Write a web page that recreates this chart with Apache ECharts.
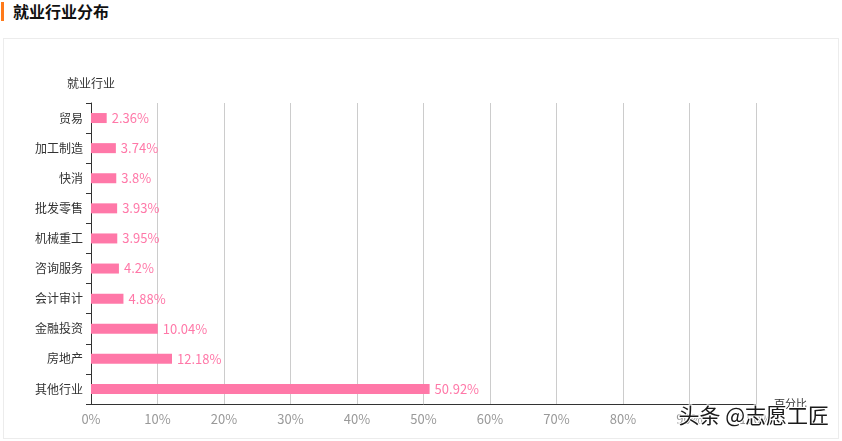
<!DOCTYPE html>
<html>
<head>
<meta charset="utf-8">
<script src="https://cdn.jsdelivr.net/npm/echarts@6/dist/echarts.min.js"></script>
<style>
    body {
        margin: 0;
        width: 842px;
        height: 441px;
        background: #fff;
        font-family: 'Noto Sans CJK SC', sans-serif;
        position: relative;
        overflow: hidden;
    }
    .title {
        position: absolute;
        left: 1px;
        top: 2px;
        height: 19px;
        border-left: 3px solid #ff7a1a;
        padding-left: 9px;
        font-size: 16px;
        font-weight: bold;
        color: #111;
        line-height: 19px;
    }
    .panel {
        position: absolute;
        left: 3px;
        top: 38px;
        width: 834px;
        height: 399px;
        border: 1px solid #ececec;
    }
    #chart {
        position: absolute;
        left: 0;
        top: 0;
        width: 842px;
        height: 441px;
    }
</style>
</head>
<body>
<div class="title">就业行业分布</div>
<div class="panel"></div>
<div id="chart"></div>
<script>
// 行业（自下而上）
const industries = ['其他行业', '房地产', '金融投资', '会计审计', '咨询服务', '机械重工', '批发零售', '快消', '加工制造', '贸易']
// 百分比
const shares = [50.92, 12.18, 10.04, 4.88, 4.2, 3.95, 3.93, 3.8, 3.74, 2.36]
const xTicks = [0, 10, 20, 30, 40, 50, 60, 70, 80, 90, 100]

const chart = echarts.init(document.getElementById('chart'))
chart.setOption({
    textStyle: { fontFamily: 'Noto Sans CJK SC' },
    grid: { left: 91, right: 86, top: 103, bottom: 37, containLabel: false },
    xAxis: {
        type: 'value',
        min: xTicks[0],
        max: xTicks[xTicks.length - 1],
        interval: 10,
        name: '百分比',
        nameGap: 18,
        nameTextStyle: { color: '#333', fontSize: 11, padding: [0, 0, 0, 0] },
        axisLine: { show: true, lineStyle: { color: '#333' } },
        axisTick: { show: false },
        axisLabel: { color: '#999', fontSize: 13, margin: 9, formatter: '{value}%' },
        splitLine: { show: true, lineStyle: { color: '#ccc' } }
    },
    yAxis: {
        type: 'category',
        data: industries,
        name: '就业行业',
        nameGap: 14,
        nameTextStyle: { color: '#333', fontSize: 12 },
        axisLine: { show: true, lineStyle: { color: '#333' } },
        axisTick: { show: true, length: 5, lineStyle: { color: '#333' } },
        axisLabel: { color: '#333', fontSize: 12, margin: 8 },
        splitLine: { show: false }
    },
    series: [
        {
            type: 'bar',
            data: shares,
            barWidth: 10,
            itemStyle: { color: '#ff78a8' },
            label: {
                show: true,
                position: 'right',
                distance: 5,
                color: '#ff78a8',
                fontSize: 13,
                formatter: '{c}%'
            }
        }
    ],
    graphic: [
        {
            type: 'text',
            right: 12,
            top: 404,
            style: {
                text: '头条 @志愿工匠',
                fill: '#1a1a1a',
                fontSize: 21,
                fontFamily: 'Noto Sans CJK SC',
                stroke: '#fff',
                lineWidth: 2,
                shadowColor: 'rgba(0,0,0,0.35)',
                shadowBlur: 2
            },
            z: 100
        }
    ]
})
</script>
</body>
</html>
